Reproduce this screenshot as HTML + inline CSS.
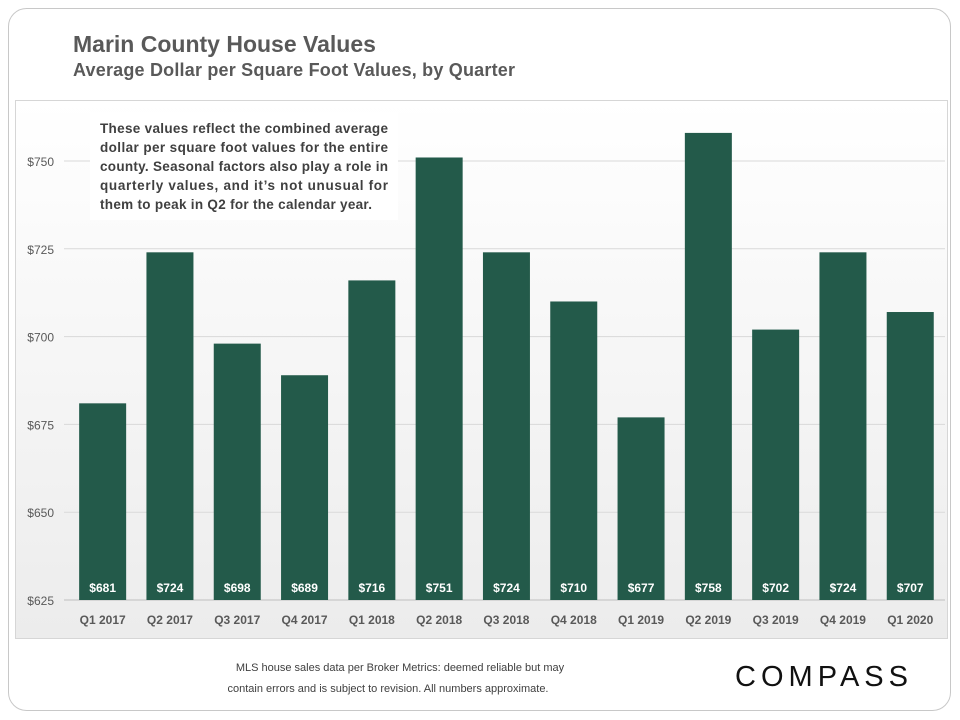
<!DOCTYPE html>
<html><head><meta charset="utf-8"><style>
body{margin:0;background:#fff;font-family:"Liberation Sans",sans-serif;}
svg{display:block}
</style></head><body>
<svg width="960" height="720" viewBox="0 0 960 720">
<defs><linearGradient id="bg" x1="0" y1="0" x2="0" y2="1"><stop offset="0" stop-color="#fff"/><stop offset="1" stop-color="#ececec"/></linearGradient></defs>
<rect x="8.5" y="8.5" width="942" height="702" rx="18" fill="#fff" stroke="#c8c8c8"/>
<text x="73" y="52" font-size="23" font-weight="bold" fill="#595959">Marin County House Values</text>
<text x="73" y="76" font-size="18" font-weight="bold" fill="#595959" textLength="442">Average Dollar per Square Foot Values, by Quarter</text>
<rect x="15.5" y="100.5" width="932" height="538" fill="url(#bg)" stroke="#d6d6d6"/>
<g id="grid"></g><g id="bars"></g><g id="labels"></g>
<rect x="90" y="112" width="308" height="108" fill="#fff"/>
<g font-size="13.5" font-weight="bold" fill="#404040">
<text x="100" y="133" textLength="288">These values reflect the combined average</text>
<text x="100" y="152" textLength="288">dollar per square foot values for the entire</text>
<text x="100" y="171" textLength="288">county. Seasonal factors also play a role in</text>
<text x="100" y="190" textLength="288">quarterly values, and it’s not unusual for</text>
<text x="100" y="209" textLength="272">them to peak in Q2 for the calendar year.</text>
</g>
<g font-size="11" fill="#404040" text-anchor="middle">
<text x="400" y="671">MLS house sales data per Broker Metrics:  deemed reliable but may</text>
<text x="388" y="692">contain errors and is subject to revision. All numbers approximate.</text>
</g>
<text x="735" y="686" font-size="29" textLength="173" fill="#111">COMPASS</text>
</svg>
<script>
const categories=["Q1 2017","Q2 2017","Q3 2017","Q4 2017","Q1 2018","Q2 2018","Q3 2018","Q4 2018","Q1 2019","Q2 2019","Q3 2019","Q4 2019","Q1 2020"];
const values=[681,724,698,689,716,751,724,710,677,758,702,724,707];
const ticks=[625,650,675,700,725,750];
const NS="http://www.w3.org/2000/svg";
const yMin=625,yMax=750,y0=600,y1=161;
function y(v){return y0-(v-yMin)/(yMax-yMin)*(y0-y1);}
const xL=69,step=67.3,bw=47;
function x(i){return xL+i*step+(step-bw)/2;}
function mk(t,a,p){const e=document.createElementNS(NS,t);for(const k in a)e.setAttribute(k,a[k]);p.appendChild(e);return e;}
const grid=document.getElementById('grid'),bars=document.getElementById('bars'),labels=document.getElementById('labels');
ticks.forEach(t=>{
 const l=mk('line',{x1:64,x2:945,y1:y(t),y2:y(t),stroke:t===625?'#bfbfbf':'#d9d9d9'},grid);
 
 
 const tx=mk('text',{x:54,y:y(t)+5,'font-size':12,fill:'#595959','text-anchor':'end'},grid);
 tx.textContent='$'+t;
 
 
});
values.forEach((v,i)=>{
 const r=mk('rect',{x:x(i),y:y(v),width:bw,height:y0-y(v),fill:'#235a4a'},bars);
 
 
 const t=mk('text',{x:x(i)+bw/2,y:y0-8,'font-size':12,'font-weight':'bold',fill:'#fff','text-anchor':'middle'},labels);
 t.textContent='$'+v;
 
 
 const c=mk('text',{x:x(i)+bw/2,y:y0+24,'font-size':12,'font-weight':'bold',fill:'#595959','text-anchor':'middle'},labels);
 c.textContent=categories[i];
 
 
});
</script>
</body></html>
